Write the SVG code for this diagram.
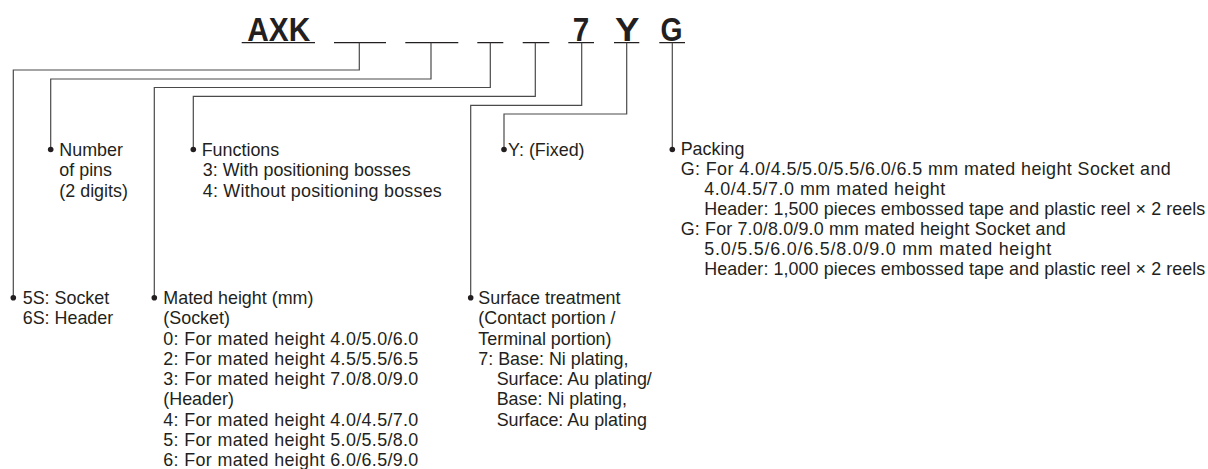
<svg xmlns="http://www.w3.org/2000/svg" width="1208" height="469" viewBox="0 0 1208 469">
<style>
  .t{font-family:"Liberation Sans",Arial,sans-serif;font-size:17.9px;fill:#231f20}
  .h{font-family:"Liberation Sans",Arial,sans-serif;font-size:33.5px;font-weight:bold;fill:#231f20}
  .ul{stroke:#231f20;stroke-width:1.3;fill:none}
  .c{stroke:#4a4a4a;stroke-width:1.2;fill:none}
  .dot{fill:#231f20}
</style>
<rect width="1208" height="469" fill="#ffffff"/>
<g id="title">
  <text class="h" x="247.3" y="40.7" textLength="63" lengthAdjust="spacingAndGlyphs">AXK</text>
  <text class="h" x="572.8" y="40.7" textLength="16.5" lengthAdjust="spacingAndGlyphs">7</text>
  <text class="h" x="615" y="40.7" textLength="24.5" lengthAdjust="spacingAndGlyphs">Y</text>
  <text class="h" x="660.5" y="40.7" textLength="22" lengthAdjust="spacingAndGlyphs">G</text>
  <path class="ul" d="M241.7 42.7H315M334 42.7H386M405.3 42.7H458.3M477.3 42.7H503.3M522.7 42.7H549.3M568.3 42.7H594M614 42.7H639.3M659.3 42.7H685"/>
</g>
<g id="connectors">
  <path class="c" d="M359.3 42.7V70H13.3V297.7"/>
  <path class="c" d="M431 42.7V79H50.7V149.5"/>
  <path class="c" d="M490.3 42.7V87.5H154.3V297.7"/>
  <path class="c" d="M535.3 42.7V96.3H193.3V149.5"/>
  <path class="c" d="M581.7 42.7V105.3H470.7V297.7"/>
  <path class="c" d="M626.7 42.7V114H504V149.5"/>
  <path class="c" d="M672.3 42.7V149.5"/>
</g>
<g id="number-of-pins">
  <circle class="dot" cx="50.7" cy="149.5" r="2.8"/>
  <text class="t" x="59.3" y="156">Number</text>
  <text class="t" x="59.3" y="176.25">of pins</text>
  <text class="t" x="59.3" y="196.5">(2 digits)</text>
</g>
<g id="functions">
  <circle class="dot" cx="193.3" cy="149.5" r="2.8"/>
  <text class="t" x="201.7" y="156">Functions</text>
  <text class="t" x="202.8" y="176.25">3: With positioning bosses</text>
  <text class="t" x="202.8" y="196.5" textLength="239" lengthAdjust="spacing">4: Without positioning bosses</text>
</g>
<g id="fixed">
  <circle class="dot" cx="504" cy="149.5" r="2.8"/>
  <text class="t" x="508" y="156">Y: (Fixed)</text>
</g>
<g id="packing">
  <circle class="dot" cx="672.3" cy="149.5" r="2.8"/>
  <text class="t" x="680.7" y="155.3">Packing</text>
  <text class="t" x="680.7" y="175.3" textLength="490" lengthAdjust="spacing">G: For 4.0/4.5/5.0/5.5/6.0/6.5 mm mated height Socket and</text>
  <text class="t" x="704.3" y="195.3" textLength="241" lengthAdjust="spacing">4.0/4.5/7.0 mm mated height</text>
  <text class="t" x="704.3" y="215.3" textLength="501" lengthAdjust="spacing">Header: 1,500 pieces embossed tape and plastic reel × 2 reels</text>
  <text class="t" x="680.7" y="235.3" textLength="385" lengthAdjust="spacing">G: For 7.0/8.0/9.0 mm mated height Socket and</text>
  <text class="t" x="704.3" y="255.3" textLength="347" lengthAdjust="spacing">5.0/5.5/6.0/6.5/8.0/9.0 mm mated height</text>
  <text class="t" x="704.3" y="275.3" textLength="501" lengthAdjust="spacing">Header: 1,000 pieces embossed tape and plastic reel × 2 reels</text>
</g>
<g id="type">
  <circle class="dot" cx="13.3" cy="297.7" r="2.8"/>
  <text class="t" x="22.7" y="304">5S: Socket</text>
  <text class="t" x="22.7" y="324.25">6S: Header</text>
</g>
<g id="mated-height">
  <circle class="dot" cx="154.3" cy="297.7" r="2.8"/>
  <text class="t" x="163.3" y="304">Mated height (mm)</text>
  <text class="t" x="163.3" y="324.25">(Socket)</text>
  <text class="t" x="163.3" y="344.5" textLength="255" lengthAdjust="spacing">0: For mated height 4.0/5.0/6.0</text>
  <text class="t" x="163.3" y="364.75" textLength="255" lengthAdjust="spacing">2: For mated height 4.5/5.5/6.5</text>
  <text class="t" x="163.3" y="385" textLength="255" lengthAdjust="spacing">3: For mated height 7.0/8.0/9.0</text>
  <text class="t" x="163.3" y="405.25">(Header)</text>
  <text class="t" x="163.3" y="425.5" textLength="255" lengthAdjust="spacing">4: For mated height 4.0/4.5/7.0</text>
  <text class="t" x="163.3" y="445.75" textLength="255" lengthAdjust="spacing">5: For mated height 5.0/5.5/8.0</text>
  <text class="t" x="163.3" y="466" textLength="255" lengthAdjust="spacing">6: For mated height 6.0/6.5/9.0</text>
</g>
<g id="surface-treatment">
  <circle class="dot" cx="470.7" cy="297.7" r="2.8"/>
  <text class="t" x="478.3" y="304">Surface treatment</text>
  <text class="t" x="478.3" y="324.25">(Contact portion /</text>
  <text class="t" x="478.3" y="344.5">Terminal portion)</text>
  <text class="t" x="478.3" y="364.75">7: Base: Ni plating,</text>
  <text class="t" x="496.7" y="385">Surface: Au plating/</text>
  <text class="t" x="496.7" y="405.25">Base: Ni plating,</text>
  <text class="t" x="496.7" y="425.5">Surface: Au plating</text>
</g>
</svg>
